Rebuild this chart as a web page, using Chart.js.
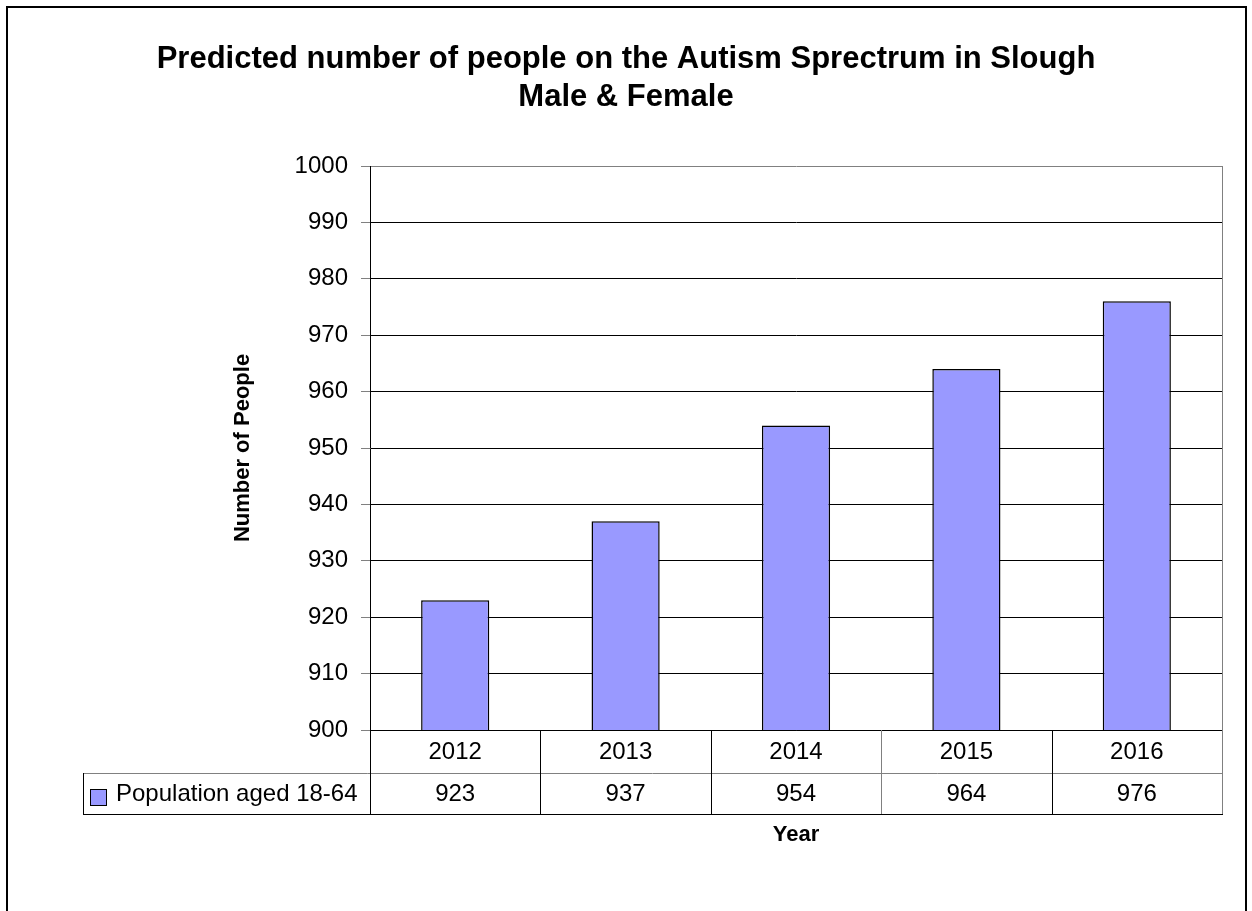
<!DOCTYPE html>
<html>
<head>
<meta charset="utf-8">
<title>Autism Spectrum - Slough</title>
<script src="https://cdn.jsdelivr.net/npm/chart.js@4.4.1/dist/chart.umd.min.js"></script>
<style>
  body { margin: 0; background: #fff; }
  canvas { display: block; }
</style>
</head>
<body>
<canvas id="autismChart" width="1252" height="911"></canvas>
<script>
/* ===== DATA ===== */
const years = ["2012", "2013", "2014", "2015", "2016"];
const population = [923, 937, 954, 964, 976];
const seriesName = "Population aged 18-64";
const yMin = 900;
const yMax = 1000;
const yStep = 10;

const FONT = "'Liberation Sans', Arial, sans-serif";
const BAR_FILL = "#9999ff";

/* ===== PLUGINS ===== */
// white page + outer frame
const frame = {
  id: "frame",
  beforeDraw(chart) {
    const ctx = chart.ctx;
    ctx.save();
    ctx.fillStyle = "#fff";
    ctx.fillRect(0, 0, chart.width, chart.height);
    ctx.strokeStyle = "#000";
    ctx.lineWidth = 2;
    ctx.strokeRect(7, 7, 1239, 940);
    ctx.restore();
  },
};

// plot border (right) + data table under the axis
const dataTable = {
  id: "dataTable",
  afterDraw(chart) {
    const { ctx, chartArea } = chart;
    const x = chart.scales.x;
    const ds = chart.data.datasets[0];
    const step = (x.right - x.left) / years.length;
    const top = chartArea.bottom;
    const mid = top + 43;
    const bot = mid + 41;
    const legLeft = 83;

    ctx.save();
    ctx.lineWidth = 1;

    // plot area border on the right
    ctx.strokeStyle = "#808080";
    ctx.beginPath();
    ctx.moveTo(chartArea.right + 0.5, chartArea.top);
    ctx.lineTo(chartArea.right + 0.5, chartArea.bottom);
    ctx.stroke();

    // table lines
    ctx.strokeStyle = "#808080";
    ctx.beginPath();
    ctx.moveTo(legLeft, mid + 0.5);
    ctx.lineTo(x.right, mid + 0.5);
    ctx.stroke();

    ctx.strokeStyle = "#000";
    ctx.beginPath();
    ctx.moveTo(legLeft, bot + 0.5);
    ctx.lineTo(x.right + 1, bot + 0.5);
    ctx.moveTo(legLeft + 0.5, mid);
    ctx.lineTo(legLeft + 0.5, bot);
    ctx.stroke();

    for (let i = 0; i <= years.length; i++) {
      const px = Math.round(x.left + i * step) + 0.5;
      ctx.strokeStyle = i === 3 || i === years.length ? "#808080" : "#000";
      ctx.beginPath();
      ctx.moveTo(px, top);
      ctx.lineTo(px, bot);
      ctx.stroke();
    }

    // year labels and values
    ctx.fillStyle = "#000";
    ctx.font = "24px " + FONT;
    ctx.textAlign = "center";
    ctx.textBaseline = "middle";
    years.forEach((yr, i) => {
      const cx = x.getPixelForValue(i);
      ctx.fillText(yr, cx, (top + mid) / 2 + 1);
      ctx.fillText(String(ds.data[i]), cx, (mid + bot) / 2 + 1);
    });

    // legend key
    ctx.fillStyle = ds.backgroundColor;
    ctx.fillRect(90, mid + 16, 16, 16);
    ctx.strokeStyle = "#000";
    ctx.strokeRect(90.5, mid + 16.5, 16, 16);
    ctx.fillStyle = "#000";
    ctx.textAlign = "left";
    ctx.fillText(seriesName, 116, (mid + bot) / 2 + 1);

    ctx.restore();
  },
};

/* ===== CHART ===== */
const ctx = document.getElementById("autismChart").getContext("2d");

const chart = new Chart(ctx, {
  type: "bar",
  data: {
    labels: years,
    datasets: [
      {
        label: seriesName,
        data: population,
        backgroundColor: BAR_FILL,
        borderColor: "#000",
        borderWidth: 1.5,
        categoryPercentage: 1,
        barPercentage: 0.4,
      },
    ],
  },
  options: {
    responsive: false,
    animation: false,
    devicePixelRatio: 1,
    layout: {
      padding: 0,
    },
    scales: {
      x: {
        ticks: { display: false },
        grid: { display: false },
        border: { display: true, color: "#000", width: 1 },
        title: {
          display: true,
          text: "Year",
          color: "#000",
          padding: { top: 0, bottom: 63 },
          font: { family: FONT, size: 22, weight: "bold" },
        },
        afterFit: (s) => {
          s.height = 181;
        },
      },
      y: {
        min: yMin,
        max: yMax,
        ticks: {
          stepSize: yStep,
          color: "#000",
          padding: 13,
          font: { family: FONT, size: 24 },
          callback: (v) => String(v),
        },
        grid: {
          color: (c) => (c.tick && c.tick.value === yMax ? "#808080" : "#000"),
          tickColor: "#808080",
          tickLength: 9,
          lineWidth: 1,
        },
        border: { display: true, color: "#000", width: 1 },
        title: {
          display: true,
          text: "Number of People",
          color: "#000",
          padding: { top: 230, bottom: 0 },
          font: { family: FONT, size: 22, weight: "bold" },
        },
        afterFit: (s) => {
          s.width = 370;
        },
      },
      // empty strip on the right so the plot ends where the frame margin starts
      yRight: {
        position: "right",
        display: true,
        ticks: { display: false },
        grid: { display: false },
        border: { display: false },
        afterFit: (s) => {
          s.width = 30;
        },
      },
    },
    plugins: {
      legend: { display: false },
      tooltip: { enabled: false },
      title: {
        display: true,
        text: [
          "Predicted number of people on the Autism Sprectrum in Slough",
          "Male & Female",
        ],
        color: "#000",
        padding: { top: 40, bottom: 50 },
        font: { family: FONT, size: 31, weight: "bold", lineHeight: "38px" },
      },
    },
  },
  plugins: [frame, dataTable],
});
</script>
</body>
</html>
